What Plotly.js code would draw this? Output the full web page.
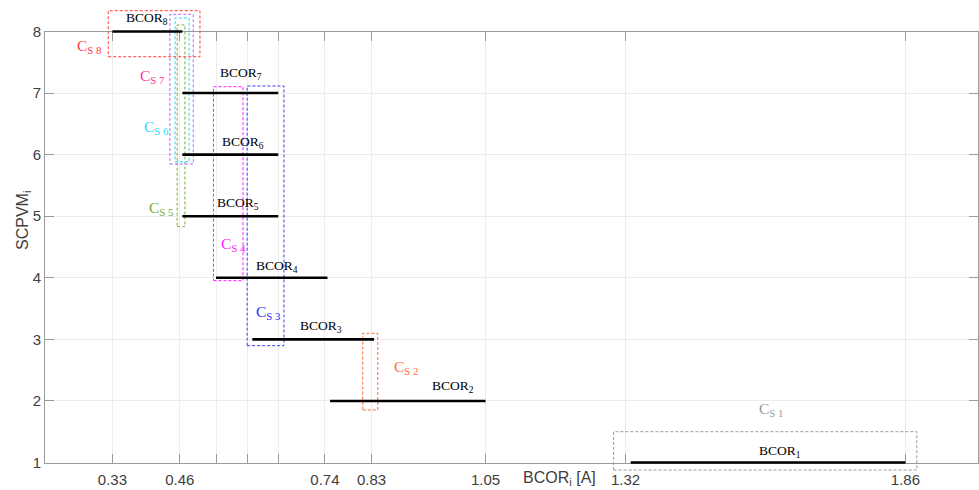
<!DOCTYPE html>
<html>
<head>
<meta charset="utf-8">
<script src="https://cdn.plot.ly/plotly-3.0.1.min.js"></script>
<style>html,body{margin:0;padding:0;background:#fff;}#chart{width:979px;height:490px;}</style>
</head>
<body>
<div id="chart"></div>
<script>
// ---- data ----
const levels     = [1, 2, 3, 4, 5, 6, 7, 8];
const bcorStart  = [1.33, 0.75, 0.60, 0.53, 0.465, 0.465, 0.465, 0.33];
const bcorEnd    = [1.86, 1.05, 0.835, 0.745, 0.65, 0.65, 0.65, 0.465];
const bcorNames  = ['BCOR<sub>1</sub>','BCOR<sub>2</sub>','BCOR<sub>3</sub>','BCOR<sub>4</sub>','BCOR<sub>5</sub>','BCOR<sub>6</sub>','BCOR<sub>7</sub>','BCOR<sub>8</sub>'];
const bcorLabelX = [1.573, 0.943, 0.688, 0.603, 0.528, 0.538, 0.533, 0.353];
const bcorLabelY = [1.18, 2.23, 3.21, 4.18, 5.2, 6.19, 7.31, 8.21];

const csNames  = ['C<sub>S 1</sub>','C<sub>S 2</sub>','C<sub>S 3</sub>','C<sub>S 4</sub>','C<sub>S 5</sub>','C<sub>S 6</sub>','C<sub>S 7</sub>','C<sub>S 8</sub>'];
const csLabelX = [1.573, 0.869, 0.604, 0.536, 0.397, 0.387, 0.380, 0.258];
const csLabelY = [1.853, 2.551, 3.444, 4.537, 5.133, 6.449, 7.266, 7.764];
const csBoxX0  = [1.297, 0.813, 0.590, 0.525, 0.455, 0.451, 0.441, 0.322];
const csBoxX1  = [1.882, 0.842, 0.661, 0.582, 0.470, 0.478, 0.486, 0.499];
const csBoxY0  = [0.878, 1.853, 2.897, 3.953, 4.83, 5.885, 5.848, 7.59];
const csBoxY1  = [1.50, 3.098, 7.115, 7.103, 8.106, 8.219, 8.279, 8.338];
const csLabelColors = ['#9a9a9a','#ff6a3d','#2a2aff','#ff19ff','#77ac30','#19dcff','#ff3399','#ff3c3c'];
const csBoxColors   = ['#9a9a9a','#ff6a3d','#3a3aff','#ff19ff','#77ac30','#19dcff','#b266ff','#ff3c3c'];

const xTickVals = [0.33, 0.46, 0.53, 0.59, 0.65, 0.74, 0.83, 1.05, 1.32, 1.86];
const xTickText = ['0.33', '0.46', '', '', '', '0.74', '0.83', '1.05', '1.32', '1.86'];
const yTickVals = [1, 2, 3, 4, 5, 6, 7, 8];

// ---- layout geometry ----
const W = 979, H = 490;
const xDom = [45 / W, 978 / W];
const yDom = [1 - 462.5 / H, 1 - 31.5 / H];
const xRange = [0.2, 2.0];
const yRange = [1, 8];
const perUnit = (yDom[1] - yDom[0]) / (yRange[1] - yRange[0]);
const y2Range = [yRange[0] - yDom[0] / perUnit, yRange[1] + (1 - yDom[1]) / perUnit];

const traces = [];
// dummy trace to create the framed subplot
traces.push({x: [], y: [], type: 'scatter', mode: 'lines', xaxis: 'x', yaxis: 'y', showlegend: false, hoverinfo: 'skip'});
// dotted boxes
for (let i = 0; i < csBoxX0.length; i++) {
  traces.push({
    x: [csBoxX0[i], csBoxX1[i], csBoxX1[i], csBoxX0[i], csBoxX0[i]],
    y: [csBoxY0[i], csBoxY0[i], csBoxY1[i], csBoxY1[i], csBoxY0[i]],
    type: 'scatter', mode: 'lines', xaxis: 'x2', yaxis: 'y2',
    line: {color: csBoxColors[i], width: 1, dash: '3px,2px'},
    showlegend: false, hoverinfo: 'skip'
  });
}
// BCOR segments
for (let i = 0; i < levels.length; i++) {
  traces.push({
    x: [bcorStart[i], bcorEnd[i]], y: [levels[i], levels[i]],
    type: 'scatter', mode: 'lines', xaxis: 'x2', yaxis: 'y2',
    line: {color: '#000000', width: 2.6},
    showlegend: false, hoverinfo: 'skip'
  });
}

const annotations = [];
for (let i = 0; i < levels.length; i++) {
  annotations.push({
    x: bcorLabelX[i], y: bcorLabelY[i], xref: 'x2', yref: 'y2',
    text: bcorNames[i], showarrow: false, xanchor: 'left', yanchor: 'middle',
    font: {family: 'Liberation Serif, Times New Roman, serif', size: 13.5, color: '#000'}
  });
  annotations.push({
    x: csLabelX[i], y: csLabelY[i], xref: 'x2', yref: 'y2',
    text: csNames[i], showarrow: false, xanchor: 'left', yanchor: 'middle',
    font: {family: 'Liberation Serif, Times New Roman, serif', size: 15.5, color: csLabelColors[i]}
  });
}
annotations.push({
  x: 559 / W, y: 1 - 478 / H, xref: 'paper', yref: 'paper', showarrow: false,
  text: 'BCOR<sub>i</sub> [A]', xanchor: 'center', yanchor: 'middle',
  font: {family: 'Liberation Sans, Arial, sans-serif', size: 16, color: '#404040'}
});
annotations.push({
  x: 23 / W, y: 1 - 221 / H, xref: 'paper', yref: 'paper', showarrow: false,
  text: 'SCPVM<sub>i</sub>', textangle: -90, xanchor: 'center', yanchor: 'middle',
  font: {family: 'Liberation Sans, Arial, sans-serif', size: 16, color: '#404040'}
});

const axisCommon = {
  showline: true, mirror: 'ticks', linecolor: '#9a9a9a', linewidth: 1,
  ticks: 'inside', ticklen: 9, tickcolor: '#9a9a9a', tickwidth: 1,
  showgrid: true, gridcolor: '#ececec', gridwidth: 1, zeroline: false,
  automargin: false, fixedrange: true,
  tickfont: {family: 'Liberation Sans, Arial, sans-serif', size: 15, color: '#404040'}
};

const layout = {
  width: W, height: H,
  margin: {l: 0, r: 0, t: 0, b: 0, pad: 0},
  paper_bgcolor: '#ffffff', plot_bgcolor: 'rgba(0,0,0,0)',
  showlegend: false,
  xaxis: Object.assign({}, axisCommon, {domain: xDom, range: xRange, anchor: 'y',
    tickmode: 'array', tickvals: xTickVals, ticktext: xTickText, ticklabelstandoff: 3}),
  yaxis: Object.assign({}, axisCommon, {domain: yDom, range: yRange, anchor: 'x',
    tickmode: 'array', tickvals: yTickVals, ticktext: yTickVals.map(String)}),
  xaxis2: {domain: xDom, range: xRange, anchor: 'y2', visible: false, fixedrange: true, automargin: false},
  yaxis2: {domain: [0, 1], range: y2Range, anchor: 'x2', visible: false, fixedrange: true, automargin: false},
  annotations: annotations
};

Plotly.newPlot('chart', traces, layout, {staticPlot: true, displayModeBar: false});
</script>
</body>
</html>
